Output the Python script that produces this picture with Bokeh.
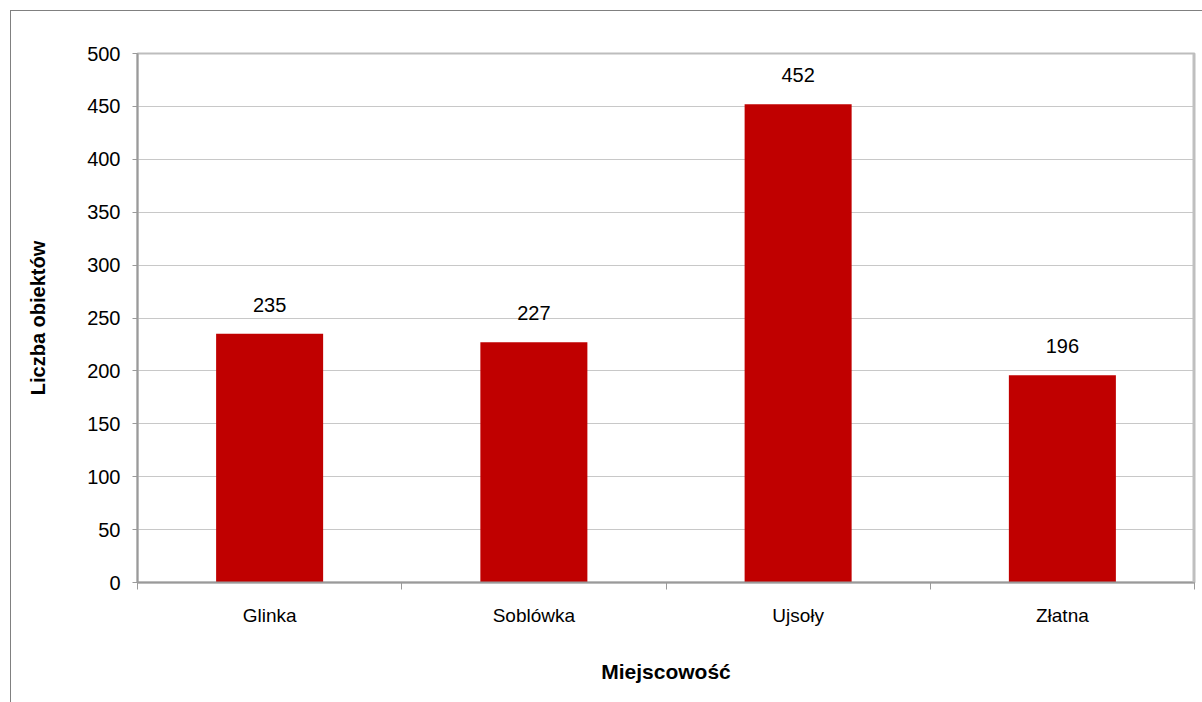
from bokeh.plotting import figure
from bokeh.models import (Range1d, LinearAxis, FixedTicker, ColumnDataSource, Label, Span)
from bokeh.embed import file_html
from bokeh.resources import INLINE
from bokeh.core.properties import value

# ---- data ----
categories = ["Glinka", "Soblówka", "Ujsoły", "Złatna"]
counts = [235, 227, 452, 196]
y_ticks = [0, 50, 100, 150, 200, 250, 300, 350, 400, 450, 500]
title_text = "miejscowościach Gminy Ujsoły"
x_title = "Miejscowość"
y_title = "Liczba obiektów"

FONT = "Liberation Sans"
BAR = "#C00000"

n = len(categories)
centers = [i + 0.5 for i in range(n)]
bounds = list(range(n + 1))
src = ColumnDataSource(dict(x=centers, cat=categories, count=counts,
                            label=[str(c) for c in counts]))

p = figure(x_range=Range1d(0, n), y_range=Range1d(0, 500),
           width=1202, height=702, output_backend="svg", toolbar_location=None,
           x_axis_location=None, y_axis_location="left",
           min_border_left=137, min_border_right=8, min_border_top=53, min_border_bottom=120,
           border_fill_color=None, background_fill_color="white",
           outline_line_color="#bdbdbd", outline_line_width=2)

p.styles = {
    "background": ("linear-gradient(#808080,#808080) 10px 10px / 1px 100% no-repeat, "
                   "linear-gradient(#808080,#808080) 10px 10px / 100% 1px no-repeat, #ffffff"),
}

# bars
p.vbar(x="x", top="count", width=0.405, source=src, fill_color=BAR, line_color=None)

# value labels
p.text(x="x", y="count", text="label", source=src, y_offset=-29,
       text_align="center", text_baseline="alphabetic",
       text_font=value(FONT), text_font_size="20px", text_color="#000000")

# y axis
ya = p.yaxis[0]
ya.ticker = FixedTicker(ticks=y_ticks)
ya.axis_line_color = "#9a9a9a"
ya.axis_line_width = 2
ya.major_tick_line_color = "#9a9a9a"
ya.major_tick_out = 5
ya.major_tick_in = 0
ya.minor_tick_line_color = None
ya.major_label_text_font = FONT
ya.major_label_text_font_size = "20px"
ya.major_label_text_color = "#000000"
ya.major_label_standoff = 12
ya.axis_label = y_title
ya.axis_label_text_font = FONT
ya.axis_label_text_font_size = "20px"
ya.axis_label_text_font_style = "bold"
ya.axis_label_text_color = "#000000"
ya.axis_label_standoff = 35

p.ygrid.ticker = FixedTicker(ticks=y_ticks)
p.ygrid.grid_line_color = "#c8c8c8"
p.ygrid.grid_line_width = 1
p.xgrid.grid_line_color = None

# x axis: labels at category centres, tick marks at category boundaries
xa = LinearAxis(ticker=FixedTicker(ticks=centers, minor_ticks=bounds),
                major_label_overrides={c: name for c, name in zip(centers, categories)})
xa.axis_line_color = "#9a9a9a"
xa.axis_line_width = 2
xa.major_tick_line_color = None
xa.major_tick_out = 0
xa.major_tick_in = 0
xa.minor_tick_line_color = "#9a9a9a"
xa.minor_tick_out = 7
xa.minor_tick_in = 0
xa.major_label_text_font = FONT
xa.major_label_text_font_size = "19px"
xa.major_label_text_color = "#000000"
xa.major_label_standoff = 15
xa.axis_label = x_title
xa.axis_label_text_font = FONT
xa.axis_label_text_font_size = "21px"
xa.axis_label_text_font_style = "bold"
xa.axis_label_text_color = "#000000"
xa.axis_label_standoff = 31
p.add_layout(xa, "below")

# right shadow edge of plot area
p.add_layout(Span(location=n, dimension="height",
                  line_color="#c0c0c0", line_width=4))

# cut-off chart title at the very top
p.add_layout(Label(x=0, y=500, x_offset=-137, y_offset=48, text=title_text,
                   text_font=FONT, text_font_size="24px", text_font_style="bold",
                   text_color="#7f7f7f", text_align="left", text_baseline="alphabetic"))

open("out.html", "w").write(file_html(p, INLINE))
